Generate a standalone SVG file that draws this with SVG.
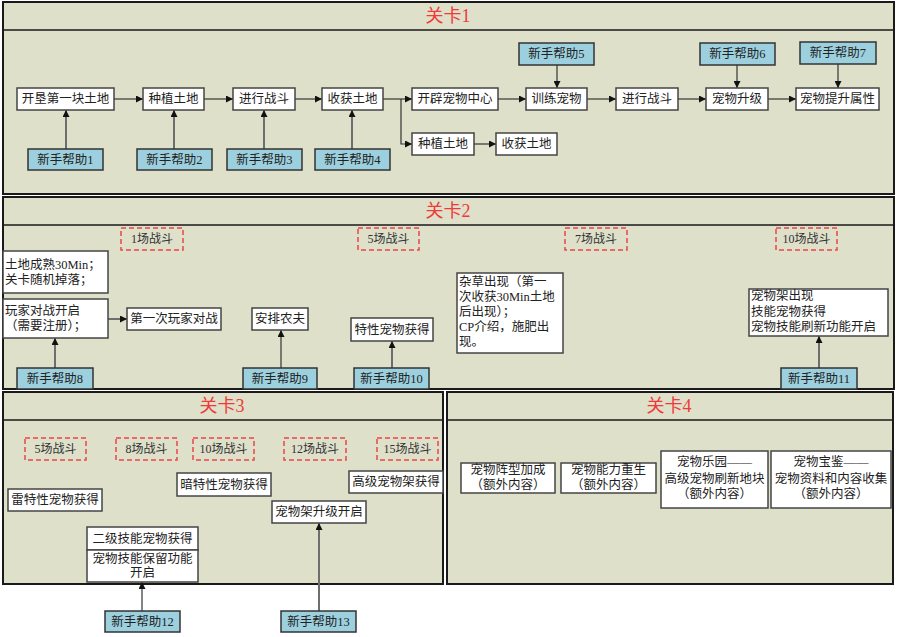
<svg xmlns="http://www.w3.org/2000/svg" width="897" height="637" viewBox="0 0 897 637">
<defs>
<marker id="ah" viewBox="0 0 8 8" refX="8" refY="4" markerWidth="7" markerHeight="7" markerUnits="userSpaceOnUse" orient="auto"><path d="M0,0 L8,4 L0,8 z" fill="#111"/></marker>
<style>
.panel{fill:#dee0ca;stroke:#1a1a1a;stroke-width:2}
.hdr{stroke:#1a1a1a;stroke-width:1.5}
.title{font-family:"Liberation Serif","Noto Sans CJK SC",serif;font-size:18px;fill:#f03a3a;text-anchor:middle;dominant-baseline:central}
.box{fill:#ffffff;stroke:#444;stroke-width:1.5}
.help{fill:#9dd0de;stroke:#333;stroke-width:1.5}
.dash{fill:none;stroke:#e8454a;stroke-width:1.5;stroke-dasharray:5,3}
.t{font-family:"Liberation Serif","Noto Sans CJK SC",serif;font-size:12.5px;fill:#222;text-anchor:middle;dominant-baseline:central}
.tl{font-family:"Liberation Serif","Noto Sans CJK SC",serif;font-size:12.5px;fill:#222;dominant-baseline:central}
.td{font-family:"Liberation Serif","Noto Sans CJK SC",serif;font-size:12px;fill:#333;text-anchor:middle;dominant-baseline:central}
.a{fill:none;stroke:#333;stroke-width:1.2;marker-end:url(#ah)}
.ah{fill:none;stroke:#6e6e6e;stroke-width:2;marker-end:url(#ah)}
</style>
</defs>

<g id="panel1">
<rect class="panel" x="3" y="2" width="891" height="192"/>
<line class="hdr" x1="3" y1="30" x2="894" y2="30"/>
<text class="title" x="448" y="16">关卡1</text>
</g>
<g id="panel2">
<rect class="panel" x="3" y="197" width="891" height="192"/>
<line class="hdr" x1="3" y1="225" x2="894" y2="225"/>
<text class="title" x="448" y="211">关卡2</text>
</g>
<g id="panel3">
<rect class="panel" x="3" y="392" width="440" height="192"/>
<line class="hdr" x1="3" y1="420" x2="443" y2="420"/>
<text class="title" x="222" y="406">关卡3</text>
</g>
<g id="panel4">
<rect class="panel" x="447" y="392" width="446" height="192"/>
<line class="hdr" x1="447" y1="420" x2="893" y2="420"/>
<text class="title" x="669" y="406">关卡4</text>
</g>

<g id="connectors">
<line class="a" x1="114" y1="99" x2="143" y2="99"/>
<line class="a" x1="204" y1="99" x2="233" y2="99"/>
<line class="a" x1="295" y1="99" x2="322" y2="99"/>
<line class="a" x1="383" y1="99" x2="412" y2="99"/>
<polyline class="a" points="401,99 401,144 412,144"/>
<line class="a" x1="474" y1="144" x2="496" y2="144"/>
<line class="a" x1="498" y1="99" x2="526" y2="99"/>
<line class="a" x1="587" y1="99" x2="616" y2="99"/>
<line class="a" x1="678" y1="99" x2="706" y2="99"/>
<line class="a" x1="768" y1="99" x2="796" y2="99"/>
<line class="ah" x1="66" y1="149" x2="66" y2="110"/>
<line class="ah" x1="174" y1="149" x2="174" y2="110"/>
<line class="ah" x1="264" y1="149" x2="264" y2="110"/>
<line class="ah" x1="352" y1="149" x2="352" y2="110"/>
<line class="a" x1="557" y1="65" x2="557" y2="88"/>
<line class="a" x1="737" y1="65" x2="737" y2="88"/>
<line class="a" x1="838" y1="64" x2="838" y2="88"/>
<line class="ah" x1="108" y1="319" x2="127" y2="319"/>
<line class="ah" x1="55" y1="368" x2="55" y2="338"/>
<line class="a" x1="281" y1="368" x2="281" y2="330"/>
<line class="ah" x1="392" y1="368" x2="392" y2="341"/>
<line class="ah" x1="819" y1="368" x2="819" y2="336"/>
<line class="a" x1="142" y1="611" x2="142" y2="582"/>
<line class="ah" x1="319" y1="611" x2="319" y2="523"/>
</g>

<g id="n1"><rect class="box" x="17" y="88" width="97" height="22"/><text class="t" x="65.5" y="99">开垦第一块土地</text></g>
<g id="n2"><rect class="box" x="143" y="88" width="61" height="22"/><text class="t" x="173.5" y="99">种植土地</text></g>
<g id="n3"><rect class="box" x="233" y="88" width="62" height="22"/><text class="t" x="264" y="99">进行战斗</text></g>
<g id="n4"><rect class="box" x="322" y="88" width="61" height="22"/><text class="t" x="352.5" y="99">收获土地</text></g>
<g id="n5"><rect class="box" x="412" y="88" width="86" height="22"/><text class="t" x="455" y="99">开辟宠物中心</text></g>
<g id="n6"><rect class="box" x="526" y="88" width="61" height="22"/><text class="t" x="556.5" y="99">训练宠物</text></g>
<g id="n7"><rect class="box" x="616" y="88" width="62" height="22"/><text class="t" x="647" y="99">进行战斗</text></g>
<g id="n8"><rect class="box" x="706" y="88" width="62" height="22"/><text class="t" x="737" y="99">宠物升级</text></g>
<g id="n9"><rect class="box" x="796" y="88" width="83" height="22"/><text class="t" x="837.5" y="99">宠物提升属性</text></g>
<g id="n10"><rect class="box" x="412" y="133" width="62" height="22"/><text class="t" x="443" y="144">种植土地</text></g>
<g id="n11"><rect class="box" x="496" y="133" width="61" height="22"/><text class="t" x="526.5" y="144">收获土地</text></g>

<g id="h1"><rect class="help" x="28" y="149" width="75" height="21"/><text class="t" x="65.5" y="159.5">新手帮助1</text></g>
<g id="h2"><rect class="help" x="137" y="149" width="75" height="21"/><text class="t" x="174.5" y="159.5">新手帮助2</text></g>
<g id="h3"><rect class="help" x="227" y="149" width="75" height="21"/><text class="t" x="264.5" y="159.5">新手帮助3</text></g>
<g id="h4"><rect class="help" x="315" y="149" width="75" height="21"/><text class="t" x="352.5" y="159.5">新手帮助4</text></g>
<g id="h5"><rect class="help" x="519" y="43" width="75" height="22"/><text class="t" x="556.5" y="54">新手帮助5</text></g>
<g id="h6"><rect class="help" x="700" y="43" width="75" height="22"/><text class="t" x="737.5" y="54">新手帮助6</text></g>
<g id="h7"><rect class="help" x="800" y="42" width="76" height="22"/><text class="t" x="838" y="53">新手帮助7</text></g>

<g id="d1"><rect class="dash" x="121" y="228" width="62" height="22"/><text class="td" x="152" y="239">1场战斗</text></g>
<g id="d2"><rect class="dash" x="358" y="228" width="61" height="22"/><text class="td" x="388.5" y="239">5场战斗</text></g>
<g id="d3"><rect class="dash" x="565" y="228" width="62" height="22"/><text class="td" x="596" y="239">7场战斗</text></g>
<g id="d4"><rect class="dash" x="776" y="228" width="61" height="22"/><text class="td" x="806.5" y="239">10场战斗</text></g>

<g id="b1"><rect class="box" x="3" y="251" width="105" height="42"/><text class="tl" x="5" y="265">土地成熟30Min；</text><text class="tl" x="5" y="280">关卡随机掉落；</text></g>
<g id="b2"><rect class="box" x="3" y="299" width="105" height="39"/><text class="tl" x="5" y="311">玩家对战开启</text><text class="tl" x="5" y="326">（需要注册）；</text></g>
<g id="b3"><rect class="box" x="127" y="308" width="94" height="22"/><text class="t" x="174" y="319">第一次玩家对战</text></g>
<g id="b4"><rect class="box" x="252" y="308" width="56" height="22"/><text class="t" x="280" y="319">安排农夫</text></g>
<g id="b5"><rect class="box" x="351" y="318" width="82" height="23"/><text class="t" x="392" y="329.5">特性宠物获得</text></g>
<g id="b6"><rect class="box" x="457" y="273" width="106" height="80"/><text class="tl" x="459" y="282">杂草出现（第一</text><text class="tl" x="459" y="297">次收获30Min土地</text><text class="tl" x="459" y="312">后出现）；</text><text class="tl" x="459" y="327">CP介绍，施肥出</text><text class="tl" x="459" y="342">现。</text></g>
<g id="b7"><rect class="box" x="749" y="289" width="139" height="47"/><text class="tl" x="751" y="296">宠物架出现</text><text class="tl" x="751" y="312">技能宠物获得</text><text class="tl" x="751" y="327">宠物技能刷新功能开启</text></g>

<g id="h8"><rect class="help" x="17" y="368" width="76" height="21"/><text class="t" x="55" y="378.5">新手帮助8</text></g>
<g id="h9"><rect class="help" x="243" y="368" width="74" height="21"/><text class="t" x="280" y="378.5">新手帮助9</text></g>
<g id="h10"><rect class="help" x="354" y="368" width="75" height="21"/><text class="t" x="391.5" y="378.5">新手帮助10</text></g>
<g id="h11"><rect class="help" x="781" y="368" width="76" height="21"/><text class="t" x="819" y="378.5">新手帮助11</text></g>

<g id="d5"><rect class="dash" x="25" y="438" width="61" height="22"/><text class="td" x="55.5" y="449">5场战斗</text></g>
<g id="d6"><rect class="dash" x="116" y="438" width="61" height="22"/><text class="td" x="146.5" y="449">8场战斗</text></g>
<g id="d7"><rect class="dash" x="193" y="438" width="61" height="22"/><text class="td" x="223.5" y="449">10场战斗</text></g>
<g id="d8"><rect class="dash" x="284" y="438" width="62" height="22"/><text class="td" x="315" y="449">12场战斗</text></g>
<g id="d9"><rect class="dash" x="377" y="438" width="61" height="22"/><text class="td" x="407.5" y="449">15场战斗</text></g>

<g id="c1"><rect class="box" x="8" y="489" width="94" height="22"/><text class="t" x="55" y="500">雷特性宠物获得</text></g>
<g id="c2"><rect class="box" x="177" y="473" width="94" height="23"/><text class="t" x="224" y="484.5">暗特性宠物获得</text></g>
<g id="c3"><rect class="box" x="349" y="471" width="94" height="22"/><text class="t" x="396" y="482">高级宠物架获得</text></g>
<g id="c4"><rect class="box" x="272" y="501" width="94" height="22"/><text class="t" x="319" y="512">宠物架升级开启</text></g>
<g id="c5"><rect class="box" x="87" y="527" width="111" height="23"/><text class="t" x="142.5" y="538.5">二级技能宠物获得</text></g>
<g id="c6"><rect class="box" x="87" y="550" width="111" height="32"/><text class="t" x="142.5" y="559">宠物技能保留功能</text><text class="t" x="142.5" y="573">开启</text></g>

<g id="h12"><rect class="help" x="105" y="611" width="75" height="21"/><text class="t" x="142.5" y="621.5">新手帮助12</text></g>
<g id="h13"><rect class="help" x="281" y="611" width="75" height="21"/><text class="t" x="318.5" y="621.5">新手帮助13</text></g>

<g id="e1"><rect class="box" x="461" y="463" width="94" height="30"/><text class="t" x="508" y="470">宠物阵型加成</text><text class="t" x="508" y="485">（额外内容）</text></g>
<g id="e2"><rect class="box" x="561" y="463" width="95" height="30"/><text class="t" x="608.5" y="470">宠物能力重生</text><text class="t" x="608.5" y="485">（额外内容）</text></g>
<g id="e3"><rect class="box" x="661" y="451" width="107" height="57"/><text class="t" x="714.5" y="462">宠物乐园——</text><text class="t" x="714.5" y="479">高级宠物刷新地块</text><text class="t" x="714.5" y="494">（额外内容）</text></g>
<g id="e4"><rect class="box" x="771" y="451" width="120" height="57"/><text class="t" x="831" y="462">宠物宝鉴——</text><text class="t" x="831" y="479">宠物资料和内容收集</text><text class="t" x="831" y="494">（额外内容）</text></g>
</svg>
